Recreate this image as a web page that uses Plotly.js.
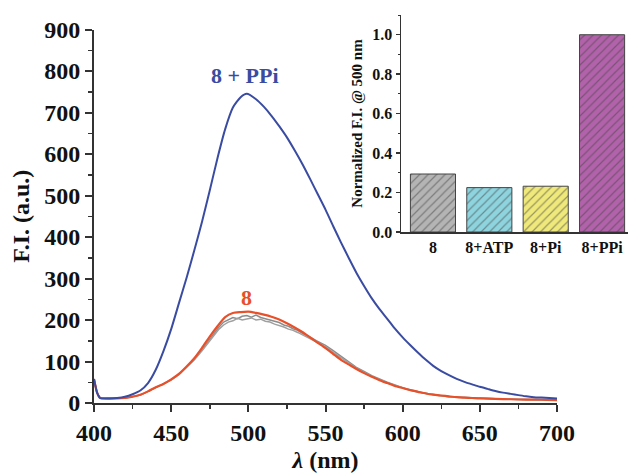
<!DOCTYPE html>
<html>
<head>
<meta charset="utf-8">
<script src="https://cdn.plot.ly/plotly-3.0.1.min.js"></script>
<style>html,body{margin:0;padding:0;background:#fff;}#chart{width:628px;height:473px;}</style>
</head>
<body>
<div id="chart"></div>
<script>
// Emission spectra
const wlBlue = [400,402,404,410,415,420,425,430,435,440,445,450,455,460,465,470,475,480,485,490,495,499,505,510,515,520,525,530,535,540,545,550,555,560,565,570,575,580,585,590,595,600,605,610,615,620,625,630,635,640,645,650,655,660,665,670,675,680,685,690,695,700];
const fiBlue = [58,25,12,11,12,15,21,30,48,80,125,178,240,302,368,437,512,590,660,712,737,745,732,714,692,667,640,609,576,540,503,466,426,387,350,314,282,252,226,203,179,158,139,121,104,89,77,67,58,51,45,39,34,29,25,22,19,16,14,13,12,11];

const wlRed = [400,402,404,410,415,420,425,430,435,440,445,450,455,460,465,470,475,480,485,490,495,500,505,510,515,520,525,530,535,540,545,550,555,560,565,570,575,580,585,590,595,600,605,610,615,620,625,630,635,640,645,650,660,670,680,690,700];
const fiRed = [58,25,12,11,11,12,15,20,28,38,46,57,70,88,108,133,160,185,207,217,219,220,217,213,208,201,192,182,171,158,145,132,118,104,93,82,72,63,55,48,41,36,31,27,23,20,18,16,14,13,12,11,10,9,8,8,7];

const wlGray = [400,402,404,410,420,430,440,450,455,460,465,470,475,478,481,484,487,490,493,496,499,502,505,508,511,514,517,520,523,526,529,532,535,538,541,544,547,550,555,560,565,570,575,580,590,600,610,620,630,640,650,660,670,680,690,700];
const fiGray1 = [56,24,12,11,12,19,37,56,69,86,105,128,153,170,183,195,200,206,203,209,211,207,212,206,203,200,196,194,188,185,179,175,168,163,157,150,145,139,126,112,99,86,76,66,50,37,27,20,15,13,11,10,9,8,8,7];
const fiGray2 = [57,24,12,11,12,19,37,55,68,85,104,126,150,165,178,188,195,198,204,200,203,205,200,202,197,195,190,187,183,178,175,170,164,158,153,146,141,136,122,109,96,84,74,64,49,36,26,20,15,13,11,10,9,8,8,7];

// Inset bar chart
const barCats = ['8','8+ATP','8+Pi','8+PPi'];
const barVals = [0.294, 0.225, 0.232, 1.0];
const barColors = ['#b4b4b4','#8ed4de','#efe87a','#b262aa'];

const serif = 'Liberation Serif, serif';
const axisColor = '#333333';

const traces = [
  {x: wlGray, y: fiGray1, type:'scatter', mode:'lines', line:{color:'#8c8c8c', width:1.5}, xaxis:'x', yaxis:'y', hoverinfo:'skip'},
  {x: wlGray, y: fiGray2, type:'scatter', mode:'lines', line:{color:'#a0a0a0', width:1.5}, xaxis:'x', yaxis:'y', hoverinfo:'skip'},
  {x: wlRed, y: fiRed, type:'scatter', mode:'lines', line:{color:'#e8502a', width:2.2, shape:'spline', smoothing:0.6}, xaxis:'x', yaxis:'y'},
  {x: wlBlue, y: fiBlue, type:'scatter', mode:'lines', line:{color:'#3a4ca2', width:2, shape:'spline', smoothing:0.6}, xaxis:'x', yaxis:'y'},
  {x: barCats, y: barVals, type:'bar', width:0.8, xaxis:'x2', yaxis:'y2',
   marker:{color: barColors, line:{color:'#444', width:1},
           pattern:{shape:'/', fillmode:'overlay', fgcolor:'#4a4a4a', size:6, solidity:0.2}}}
];

const layout = {
  width:628, height:473,
  margin:{l:94, r:0, t:15, b:70},
  paper_bgcolor:'#ffffff', plot_bgcolor:'rgba(0,0,0,0)',
  showlegend:false,
  font:{family:serif, color:'#111'},
  xaxis:{domain:[0, 463/534], range:[400,700], tickvals:[400,450,500,550,600,650,700],
    ticks:'outside', ticklen:7, tickwidth:2, tickcolor:axisColor,
    minor:{dtick:25, tick0:400, ticks:'outside', ticklen:4, tickwidth:1.5, tickcolor:axisColor},
    showline:true, linecolor:axisColor, linewidth:2, showgrid:false, zeroline:false,
    tickfont:{family:serif, size:24, color:'#111', weight:'bold'},
    title:{text:'<b><i>λ</i> (nm)</b>', font:{family:serif, size:24, color:'#111'}, standoff:6}},
  yaxis:{domain:[0, (403-29.5)/388], range:[0,900], dtick:100,
    ticks:'outside', ticklen:7, tickwidth:2, tickcolor:axisColor,
    minor:{dtick:50, ticks:'outside', ticklen:4, tickwidth:1.5, tickcolor:axisColor},
    showline:true, linecolor:axisColor, linewidth:2, showgrid:false, zeroline:false,
    tickfont:{family:serif, size:24, color:'#111', weight:'bold'},
    title:{text:'<b>F.I. (a.u.)</b>', font:{family:serif, size:24, color:'#111'}, standoff:8}},
  xaxis2:{domain:[(401-94)/534, 1], range:[-0.567, 3.46], anchor:'y2',
    showline:true, linecolor:axisColor, linewidth:1.5, showgrid:false, zeroline:false,
    ticks:'', tickfont:{family:serif, size:16, color:'#111', weight:'bold'}},
  yaxis2:{domain:[(403-232)/388, 1], range:[0,1.1], anchor:'x2', tickvals:[0,0.2,0.4,0.6,0.8,1.0],
    ticktext:['0.0','0.2','0.4','0.6','0.8','1.0'],
    ticks:'outside', ticklen:4, tickwidth:1.5, tickcolor:axisColor,
    minor:{dtick:0.1, ticks:'outside', ticklen:2, tickwidth:1, tickcolor:axisColor},
    showline:true, linecolor:axisColor, linewidth:1.5, showgrid:false, zeroline:false,
    tickfont:{family:serif, size:16, color:'#111', weight:'bold'},
    title:{text:'<b>Normalized F.I. @ 500 nm</b>', font:{family:serif, size:15, color:'#111'}, standoff:6}},
  annotations:[
    {x:498, y:790, xref:'x', yref:'y', text:'<b>8 + PPi</b>', showarrow:false,
     font:{family:serif, size:22, color:'#3a4ca2'}},
    {x:499, y:255, xref:'x', yref:'y', text:'<b>8</b>', showarrow:false,
     font:{family:serif, size:22, color:'#e8502a'}}
  ]
};

Plotly.newPlot('chart', traces, layout, {displayModeBar:false, staticPlot:true});
</script>
</body>
</html>
